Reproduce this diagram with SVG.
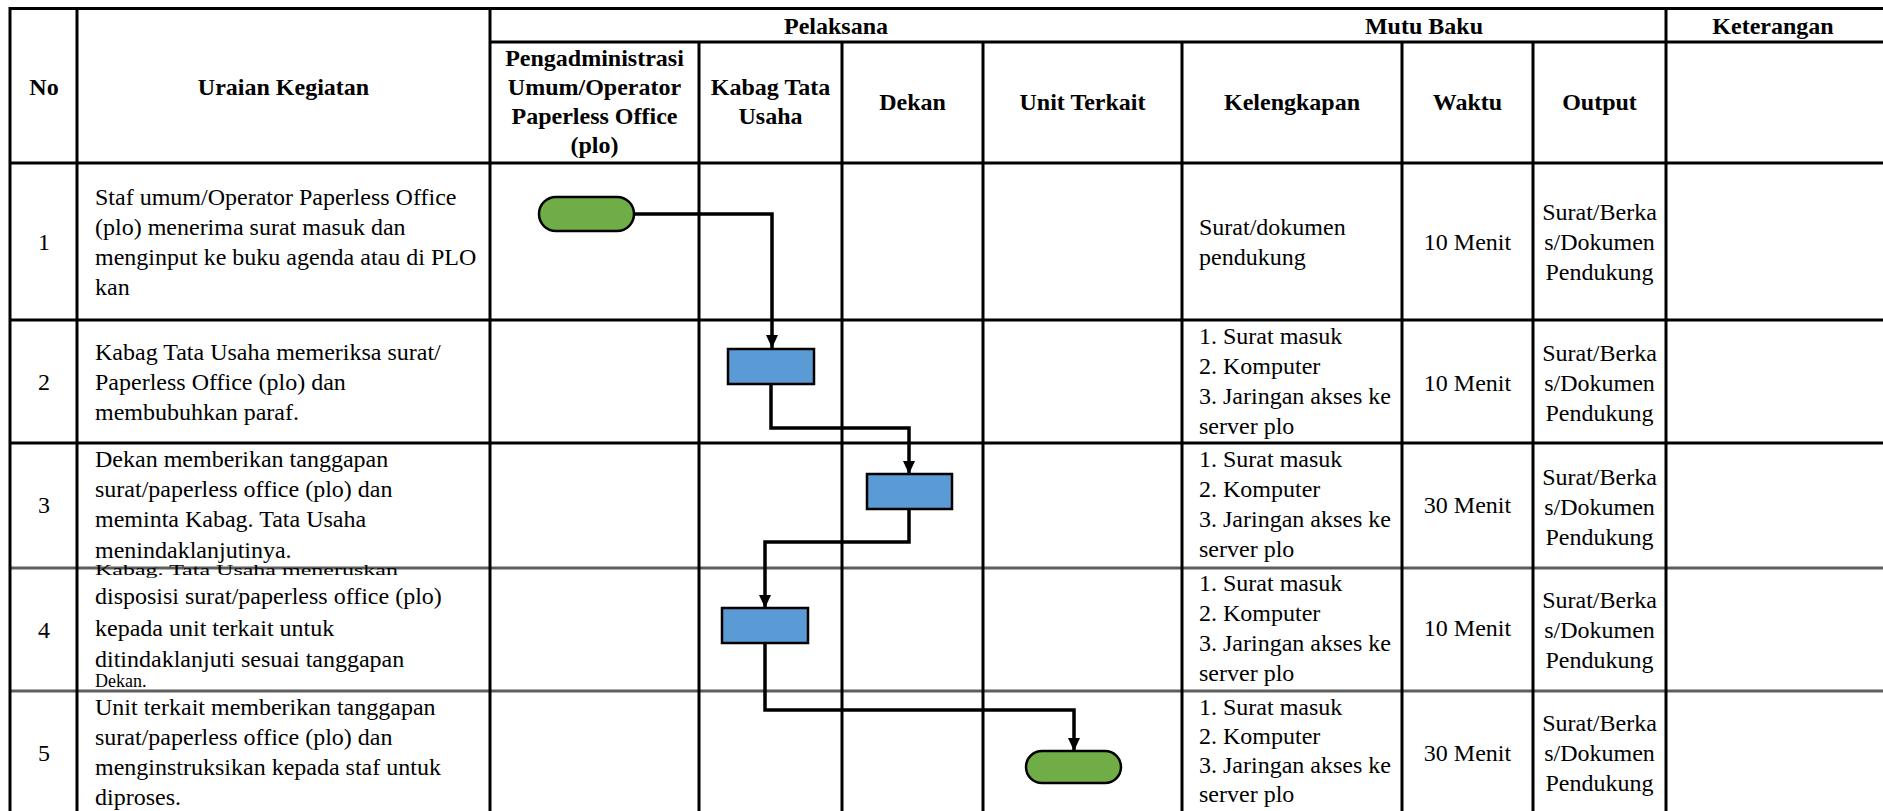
<svg xmlns="http://www.w3.org/2000/svg" width="1883" height="811" viewBox="0 0 1883 811">
<defs>
<style>
text{font-family:'Liberation Serif','DejaVu Serif',serif;font-size:24px;fill:#000}
.b{font-weight:bold}
.c{text-anchor:middle}
.grid{stroke:#000;stroke-width:3;fill:none}
.gray{stroke:#5e5e5e;stroke-width:3;fill:none}
.proc{fill:#5B9BD5;stroke:#000;stroke-width:2.5}
.term{fill:#70AD47;stroke:#000;stroke-width:2.5}
.conn{stroke:#000;stroke-width:3.5;fill:none}
</style>
<marker id="arr" viewBox="0 0 13 12" refX="13" refY="6" markerWidth="13" markerHeight="12" markerUnits="userSpaceOnUse" orient="auto">
<path d="M0,0 L13,6 L0,12 Z" fill="#000"/>
</marker>
</defs>
<rect x="0" y="0" width="1883" height="811" fill="#fff"/>

<g id="table">
<g class="gray">
<line x1="9" y1="568" x2="1883" y2="568"/>
<line x1="9" y1="691" x2="1883" y2="691"/>
</g>
<g class="grid">
<line x1="9" y1="8.5" x2="1883" y2="8.5"/>
<line x1="490" y1="42" x2="1883" y2="42"/>
<line x1="9" y1="163" x2="1883" y2="163"/>
<line x1="9" y1="320" x2="1883" y2="320"/>
<line x1="9" y1="443" x2="1883" y2="443"/>
<line x1="10" y1="7" x2="10" y2="811"/>
<line x1="77" y1="7" x2="77" y2="811"/>
<line x1="490" y1="7" x2="490" y2="811"/>
<line x1="699" y1="42" x2="699" y2="811"/>
<line x1="842" y1="42" x2="842" y2="811"/>
<line x1="983" y1="42" x2="983" y2="811"/>
<line x1="1182" y1="42" x2="1182" y2="811"/>
<line x1="1402" y1="42" x2="1402" y2="811"/>
<line x1="1533" y1="42" x2="1533" y2="811"/>
<line x1="1666" y1="7" x2="1666" y2="811"/>
</g>
</g>

<g id="header">
<text class="b c" x="836" y="34">Pelaksana</text>
<text class="b c" x="1424" y="34">Mutu Baku</text>
<text class="b c" x="1773" y="34">Keterangan</text>
<text class="b c" x="44" y="95">No</text>
<text class="b c" x="283.5" y="95">Uraian Kegiatan</text>
<text class="b c" x="594.5" y="66">Pengadministrasi</text>
<text class="b c" x="594.5" y="95">Umum/Operator</text>
<text class="b c" x="594.5" y="124">Paperless Office</text>
<text class="b c" x="594.5" y="153">(plo)</text>
<text class="b c" x="770.5" y="95">Kabag Tata</text>
<text class="b c" x="770.5" y="124">Usaha</text>
<text class="b c" x="912.5" y="110">Dekan</text>
<text class="b c" x="1082.5" y="110">Unit Terkait</text>
<text class="b c" x="1292" y="110">Kelengkapan</text>
<text class="b c" x="1467.5" y="110">Waktu</text>
<text class="b c" x="1599.5" y="110">Output</text>
</g>

<g id="row1">
<text class="c" x="44" y="250">1</text>
<text x="95" y="205">Staf umum/Operator Paperless Office</text>
<text x="95" y="235">(plo) menerima surat masuk dan</text>
<text x="95" y="265">menginput ke buku agenda atau di PLO</text>
<text x="95" y="295">kan</text>
<text x="1199" y="235">Surat/dokumen</text>
<text x="1199" y="265">pendukung</text>
<text class="c" x="1467.5" y="250">10 Menit</text>
<text class="c" x="1599.5" y="220">Surat/Berka</text>
<text class="c" x="1599.5" y="250">s/Dokumen</text>
<text class="c" x="1599.5" y="280">Pendukung</text>
</g>

<g id="row2">
<text class="c" x="44" y="390">2</text>
<text x="95" y="360">Kabag Tata Usaha memeriksa surat/</text>
<text x="95" y="390">Paperless Office (plo) dan</text>
<text x="95" y="420">membubuhkan paraf.</text>
<text x="1199" y="344">1. Surat masuk</text>
<text x="1199" y="374">2. Komputer</text>
<text x="1199" y="404">3. Jaringan akses ke</text>
<text x="1199" y="434">server plo</text>
<text class="c" x="1467.5" y="391">10 Menit</text>
<text class="c" x="1599.5" y="361">Surat/Berka</text>
<text class="c" x="1599.5" y="391">s/Dokumen</text>
<text class="c" x="1599.5" y="421">Pendukung</text>
</g>

<g id="row3">
<text class="c" x="44" y="513">3</text>
<text x="95" y="467">Dekan memberikan tanggapan</text>
<text x="95" y="497">surat/paperless office (plo) dan</text>
<text x="95" y="527">meminta Kabag. Tata Usaha</text>
<text x="95" y="558">menindaklanjutinya.</text>
<text x="1199" y="467">1. Surat masuk</text>
<text x="1199" y="497">2. Komputer</text>
<text x="1199" y="527">3. Jaringan akses ke</text>
<text x="1199" y="557">server plo</text>
<text class="c" x="1467.5" y="513">30 Menit</text>
<text class="c" x="1599.5" y="485">Surat/Berka</text>
<text class="c" x="1599.5" y="515">s/Dokumen</text>
<text class="c" x="1599.5" y="545">Pendukung</text>
</g>

<g id="row4">
<text class="c" x="44" y="638">4</text>
<text transform="translate(95,575) scale(1,0.62)" x="0" y="0">Kabag. Tata Usaha meneruskan</text>
<text x="95" y="604">disposisi surat/paperless office (plo)</text>
<text x="95" y="636">kepada unit terkait untuk</text>
<text x="95" y="667">ditindaklanjuti sesuai tanggapan</text>
<text x="95" y="687" style="font-size:18px">Dekan.</text>
<text x="1199" y="591">1. Surat masuk</text>
<text x="1199" y="621">2. Komputer</text>
<text x="1199" y="651">3. Jaringan akses ke</text>
<text x="1199" y="681">server plo</text>
<text class="c" x="1467.5" y="636">10 Menit</text>
<text class="c" x="1599.5" y="608">Surat/Berka</text>
<text class="c" x="1599.5" y="638">s/Dokumen</text>
<text class="c" x="1599.5" y="668">Pendukung</text>
</g>

<g id="row5">
<text class="c" x="44" y="761">5</text>
<text x="95" y="715">Unit terkait memberikan tanggapan</text>
<text x="95" y="745">surat/paperless office (plo) dan</text>
<text x="95" y="775">menginstruksikan kepada staf untuk</text>
<text x="95" y="805">diproses.</text>
<text x="1199" y="715">1. Surat masuk</text>
<text x="1199" y="744">2. Komputer</text>
<text x="1199" y="773">3. Jaringan akses ke</text>
<text x="1199" y="802">server plo</text>
<text class="c" x="1467.5" y="761">30 Menit</text>
<text class="c" x="1599.5" y="731">Surat/Berka</text>
<text class="c" x="1599.5" y="761">s/Dokumen</text>
<text class="c" x="1599.5" y="791">Pendukung</text>
</g>

<g id="connectors">
<path class="conn" d="M634,214 H772 V348" marker-end="url(#arr)"/>
<path class="conn" d="M771,384 V428 H909 V474" marker-end="url(#arr)"/>
<path class="conn" d="M909,509 V542 H765 V608" marker-end="url(#arr)"/>
<path class="conn" d="M765,643 V710 H1074 V751" marker-end="url(#arr)"/>
</g>

<g id="start">
<rect class="term" x="539" y="197" width="95" height="34" rx="17" ry="17"/>
</g>
<g id="step2">
<rect class="proc" x="728" y="349" width="86" height="35"/>
</g>
<g id="step3">
<rect class="proc" x="867" y="474" width="85" height="35"/>
</g>
<g id="step4">
<rect class="proc" x="722" y="608" width="86" height="35"/>
</g>
<g id="end">
<rect class="term" x="1026" y="751" width="95" height="32" rx="16" ry="16"/>
</g>
</svg>
